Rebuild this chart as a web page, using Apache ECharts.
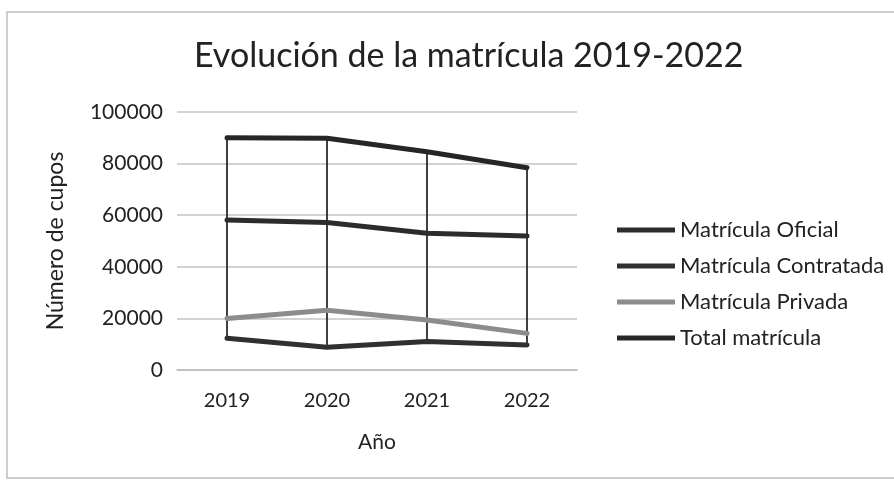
<!DOCTYPE html>
<html>
<head>
<meta charset="utf-8">
<script src="https://cdn.jsdelivr.net/npm/echarts@6/dist/echarts.min.js"></script>
<style>
    html, body { margin: 0; padding: 0; background: #fff; }
    #chart { width: 894px; height: 489px; }
</style>
</head>
<body>
<div id="chart"></div>
<script>
    // datos
    var years = ['2019', '2020', '2021', '2022'];
    var oficial = [58100, 57200, 53000, 51900];
    var contratada = [12300, 8800, 11000, 9700];
    var privada = [20000, 23200, 19400, 14200];
    var total = [90000, 89800, 84600, 78400];
    var yTicks = [0, 20000, 40000, 60000, 80000, 100000];

    var font = 'Lato, "Open Sans", sans-serif';
    var txt = '#222';

    // lineas max-min por año (high-low lines)
    var hiLo = years.map(function (y, i) {
        var vals = [oficial[i], contratada[i], privada[i], total[i]];
        return [i, Math.max.apply(null, vals), Math.min.apply(null, vals)];
    });

    var myChart = echarts.init(document.getElementById('chart'));
    myChart.setOption({
        backgroundColor: '#fff',
        animation: false,
        textStyle: { fontFamily: font },
        graphic: [
            {
                type: 'rect',
                shape: { x: 7, y: 12, width: 900, height: 466 },
                style: { fill: 'none', stroke: '#bdbdbd', lineWidth: 1.5 }
            }
        ],
        title: {
            text: 'Evolución de la matrícula 2019-2022',
            left: 189,
            top: 34,
            textStyle: { fontFamily: font, fontSize: 34, fontWeight: 'normal', color: txt }
        },
        legend: {
            orient: 'vertical',
            left: 612,
            top: 214,
            itemWidth: 58,
            itemHeight: 5,
            itemGap: 14,
            icon: 'rect',
            data: ['Matrícula Oficial', 'Matrícula Contratada', 'Matrícula Privada', 'Total matrícula'],
            textStyle: { fontFamily: font, fontSize: 22, color: txt, lineHeight: 22 }
        },
        grid: { left: 177, right: 317, top: 112, bottom: 119 },
        xAxis: {
            type: 'category',
            data: years,
            name: 'Año',
            nameLocation: 'middle',
            nameGap: 62,
            nameTextStyle: { fontFamily: font, fontSize: 21, color: txt },
            axisLine: { lineStyle: { color: '#bcbcbc', width: 1.5 } },
            axisTick: { show: false },
            axisLabel: { fontFamily: font, fontSize: 20, color: txt, margin: 21 }
        },
        yAxis: {
            type: 'value',
            min: yTicks[0],
            max: yTicks[yTicks.length - 1],
            interval: yTicks[1] - yTicks[0],
            name: 'Número de cupos',
            nameLocation: 'middle',
            nameGap: 110,
            nameTextStyle: { fontFamily: font, fontSize: 23, color: txt },
            axisLine: { show: false },
            axisTick: { show: false },
            axisLabel: {
                fontFamily: font, fontSize: 21, color: txt, margin: 14,
                formatter: function (v) { return String(v); }
            },
            splitLine: { lineStyle: { color: '#c4c4c4', width: 1.5 } }
        },
        series: [
            {
                name: 'hilo',
                type: 'custom',
                data: hiLo,
                z: 1,
                silent: true,
                renderItem: function (params, api) {
                    var p1 = api.coord([api.value(0), api.value(1)]);
                    var p2 = api.coord([api.value(0), api.value(2)]);
                    return {
                        type: 'line',
                        shape: { x1: p1[0], y1: p1[1], x2: p2[0], y2: p2[1] },
                        style: { stroke: '#111', lineWidth: 1.6 }
                    };
                }
            },
            {
                name: 'Matrícula Oficial', type: 'line', data: oficial, z: 3,
                symbol: 'none', color: '#2c2c2c',
                lineStyle: { width: 5, color: '#2c2c2c', cap: 'round' }
            },
            {
                name: 'Matrícula Contratada', type: 'line', data: contratada, z: 3,
                symbol: 'none', color: '#303030',
                lineStyle: { width: 5, color: '#303030', cap: 'round' }
            },
            {
                name: 'Matrícula Privada', type: 'line', data: privada, z: 3,
                symbol: 'none', color: '#8c8c8c',
                lineStyle: { width: 5, color: '#8c8c8c', cap: 'round' }
            },
            {
                name: 'Total matrícula', type: 'line', data: total, z: 3,
                symbol: 'none', color: '#262626',
                lineStyle: { width: 5, color: '#262626', cap: 'round' }
            }
        ]
    });
</script>
</body>
</html>
